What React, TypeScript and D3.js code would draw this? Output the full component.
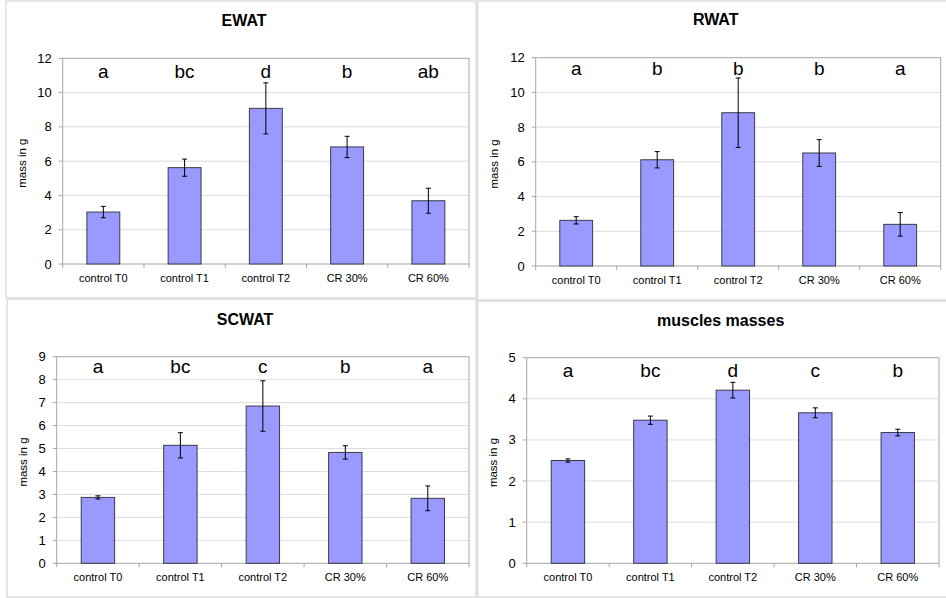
import React, { useEffect } from 'react'
import * as d3 from 'd3'

// groups on the x axis
const categories = ['control T0', 'control T1', 'control T2', 'CR 30%', 'CR 60%']

// EWAT
const ewatMeans = [3.03, 5.62, 9.08, 6.83, 3.69]
const ewatErrors = [0.33, 0.5, 1.49, 0.62, 0.73]
const ewatLetters = ['a', 'bc', 'd', 'b', 'ab']
const ewatTicks = [0, 2, 4, 6, 8, 10, 12]

// RWAT
const rwatMeans = [2.63, 6.12, 8.83, 6.51, 2.4]
const rwatErrors = [0.21, 0.47, 2.0, 0.77, 0.68]
const rwatLetters = ['a', 'b', 'b', 'b', 'a']
const rwatTicks = [0, 2, 4, 6, 8, 10, 12]

// SCWAT
const scwatMeans = [2.87, 5.14, 6.85, 4.83, 2.83]
const scwatErrors = [0.07, 0.55, 1.1, 0.29, 0.54]
const scwatLetters = ['a', 'bc', 'c', 'b', 'a']
const scwatTicks = [0, 1, 2, 3, 4, 5, 6, 7, 8, 9]

// muscles masses
const muscleMeans = [2.5, 3.48, 4.21, 3.66, 3.18]
const muscleErrors = [0.04, 0.1, 0.19, 0.12, 0.08]
const muscleLetters = ['a', 'bc', 'd', 'c', 'b']
const muscleTicks = [0, 1, 2, 3, 4, 5]

const FONT = 'Arial, "Liberation Sans", sans-serif'

interface PanelProps {
  title: string
  means: number[]
  errors: number[]
  letters: string[]
  ticks: number[]
  frame: { x: number; y: number; w: number; h: number }
  plot: { l: number; r: number; t: number; b: number }
  titleX: number
  titleY: number
  letterOffset: number
  yTitleX: number
}

const Panel = (props: PanelProps) => {
  const { title, means, errors, letters, ticks, frame, plot, titleX, titleY, letterOffset, yTitleX } = props
  const slot = d3.scaleBand<string>().domain(categories).range([plot.l, plot.r]).padding(0)
  const y = d3
    .scaleLinear()
    .domain([0, d3.max(ticks) as number])
    .range([plot.b, plot.t])
  const barW = slot.bandwidth() * 0.405
  const cx = (c: string) => (slot(c) || 0) + slot.bandwidth() / 2
  const midY = (plot.t + plot.b) / 2 + 2

  return (
    <g>
      <rect x={frame.x} y={frame.y} width={frame.w} height={frame.h} fill="#fff" stroke="#d9d9d9" strokeWidth={1.3} />
      <text x={titleX} y={titleY} textAnchor="middle" fontFamily={FONT} fontWeight="bold" fontSize={16}>
        {title}
      </text>
      <rect x={plot.l} y={plot.t} width={plot.r - plot.l} height={plot.b - plot.t} fill="#fff" stroke="#a6a6a6" />
      {/* grid lines */}
      {ticks.slice(1, -1).map((t) => (
        <line key={'g' + t} x1={plot.l} x2={plot.r} y1={y(t)} y2={y(t)} stroke="#dcdcdc" />
      ))}
      {/* y axis ticks */}
      {ticks.map((t) => (
        <g key={'y' + t}>
          <line x1={plot.l - 4} x2={plot.l} y1={y(t)} y2={y(t)} stroke="#a6a6a6" />
          <text x={plot.l - 11} y={y(t) + 4.5} textAnchor="end" fontFamily={FONT} fontSize={13}>
            {t}
          </text>
        </g>
      ))}
      {/* x axis ticks */}
      {categories.map((c) => (
        <line key={'xt' + c} x1={slot(c)} x2={slot(c)} y1={plot.b} y2={plot.b + 4} stroke="#a6a6a6" />
      ))}
      <line x1={plot.r} x2={plot.r} y1={plot.b} y2={plot.b + 4} stroke="#a6a6a6" />
      {/* bars */}
      {categories.map((c, i) => (
        <rect
          key={'b' + c}
          x={cx(c) - barW / 2}
          y={y(means[i])}
          width={barW}
          height={plot.b - y(means[i])}
          fill="#9999ff"
          stroke="#3a3a4a"
          strokeWidth={1}
        />
      ))}
      {/* error bars */}
      {categories.map((c, i) => (
        <g key={'e' + c} stroke="#000" strokeWidth={1}>
          <line x1={cx(c)} x2={cx(c)} y1={y(means[i] + errors[i])} y2={y(means[i] - errors[i])} />
          <line x1={cx(c) - 2.5} x2={cx(c) + 2.5} y1={y(means[i] + errors[i])} y2={y(means[i] + errors[i])} />
          <line x1={cx(c) - 2.5} x2={cx(c) + 2.5} y1={y(means[i] - errors[i])} y2={y(means[i] - errors[i])} />
        </g>
      ))}
      {/* category labels */}
      {categories.map((c) => (
        <text key={'l' + c} x={cx(c)} y={plot.b + 17.5} textAnchor="middle" fontFamily={FONT} fontSize={11}>
          {c}
        </text>
      ))}
      {/* significance letters */}
      {categories.map((c, i) => (
        <text key={'s' + c} x={cx(c)} y={plot.t + letterOffset} textAnchor="middle" fontFamily={FONT} fontSize={19}>
          {letters[i]}
        </text>
      ))}
      <text
        transform={`translate(${yTitleX + 3},${midY}) rotate(-90)`}
        textAnchor="middle"
        fontFamily={FONT}
        fontSize={11.5}
      >
        mass in g
      </text>
    </g>
  )
}

const App = () => {
  useEffect(() => {
    document.body.style.margin = '0'
  }, [])

  return (
    <svg width={946} height={598} style={{ display: 'block', background: '#fff' }}>
      <Panel
        title="EWAT"
        means={ewatMeans}
        errors={ewatErrors}
        letters={ewatLetters}
        ticks={ewatTicks}
        frame={{ x: 6, y: 1, w: 470, h: 297 }}
        plot={{ l: 62.7, r: 469, t: 58.3, b: 264 }}
        titleX={244}
        titleY={26}
        letterOffset={20}
        yTitleX={23}
      />
      <Panel
        title="RWAT"
        means={rwatMeans}
        errors={rwatErrors}
        letters={rwatLetters}
        ticks={rwatTicks}
        frame={{ x: 477.7, y: 1, w: 480, h: 299 }}
        plot={{ l: 535.7, r: 940.7, t: 57.7, b: 266 }}
        titleX={715.7}
        titleY={25.3}
        letterOffset={17.3}
        yTitleX={495}
      />
      <Panel
        title="SCWAT"
        means={scwatMeans}
        errors={scwatErrors}
        letters={scwatLetters}
        ticks={scwatTicks}
        frame={{ x: 7, y: 299, w: 469, h: 298 }}
        plot={{ l: 56.7, r: 469, t: 356.7, b: 563.3 }}
        titleX={245}
        titleY={325}
        letterOffset={16.6}
        yTitleX={24}
      />
      <Panel
        title="muscles masses"
        means={muscleMeans}
        errors={muscleErrors}
        letters={muscleLetters}
        ticks={muscleTicks}
        frame={{ x: 477.7, y: 301, w: 480, h: 296 }}
        plot={{ l: 526.7, r: 939, t: 357.7, b: 563.3 }}
        titleX={720.7}
        titleY={326}
        letterOffset={19}
        yTitleX={494}
      />
    </svg>
  )
}

export default App
